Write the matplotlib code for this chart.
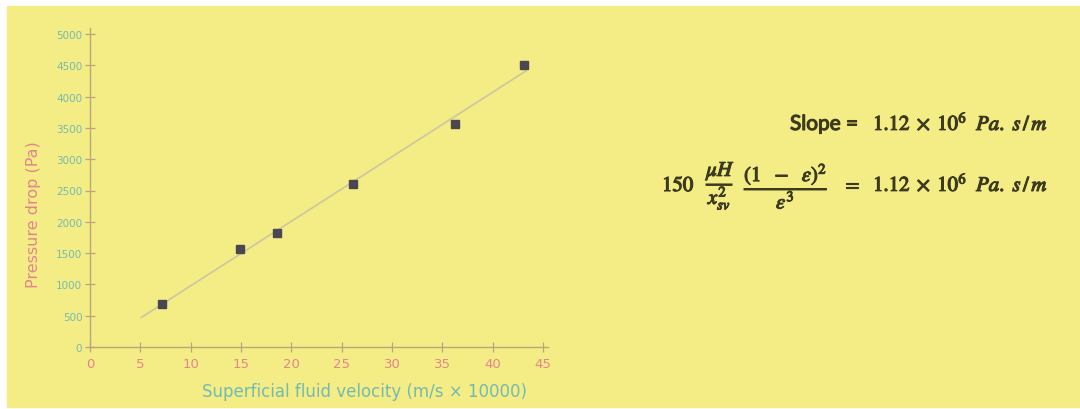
"""
Hand-drawn style pressure drop vs superficial velocity chart, with the
Carman-Kozeny slope equation on the right.
"""

import numpy as np
import matplotlib
matplotlib.use("Agg")
import matplotlib.pyplot as plt
from matplotlib.patches import Rectangle
import matplotlib.patheffects as pe

W, H = 1080, 410

# data
velocity = [7.2, 14.9, 18.6, 26.1, 36.3, 43.1]        # m/s x 10000
pressure_drop = [690, 1570, 1820, 2600, 3570, 4500]  # Pa

x_ticks = [0, 5, 10, 15, 20, 25, 30, 35, 40, 45]
y_ticks = [0, 500, 1000, 1500, 2000, 2500, 3000, 3500, 4000, 4500, 5000]
fit_range = [5.1, 43.3]

slope_value = r"$1.12\;\times\;10^{6}$"
slope_unit = r"$Pa.\ s\,/\,m$"
mu_frac = r"$\dfrac{\mu H}{x_{sv}^{2}}$"
eps_frac = r"$\dfrac{(1\ \ -\ \ \varepsilon)^{2}}{\varepsilon^{3}}$"

PAPER = "#F4EC84"
AXIS = "#B8A77C"
PINK = "#E3868D"
TEAL = "#73BBB2"
INK = "#3B3A1E"

plt.rcParams["mathtext.fontset"] = "stix"


def fx(px):
    return px / W


def fy(py):
    return 1 - py / H


fig = plt.figure(figsize=(W / 100, H / 100), dpi=100, facecolor="white")
fig.patches.append(Rectangle((fx(7), fy(408)), fx(W - 7), (408 - 7) / H,
                             transform=fig.transFigure, color=PAPER, zorder=-10))

# axes: x=0 at px 90, x=45 at px 543 ; y=0 at px 348, y=5000 at px 35
xpx = (543 - 90) / 45
ypx = (348 - 35) / 5000
xmax, ymax = 45.5, 5100
ax = fig.add_axes([fx(90), fy(348), xmax * xpx / W, ymax * ypx / H])
ax.set_zorder(2)
ax.set_facecolor("none")
ax.set_xlim(0, xmax)
ax.set_ylim(0, ymax)

for side in ["top", "right"]:
    ax.spines[side].set_visible(False)
for side in ["left", "bottom"]:
    ax.spines[side].set_color(AXIS)
    ax.spines[side].set_linewidth(1.0)

ax.set_xticks(x_ticks)
ax.set_xticklabels([str(t) for t in x_ticks])
ax.set_yticks(y_ticks)
ax.set_yticklabels([str(t) for t in y_ticks])
ax.tick_params(axis="x", direction="inout", length=7, width=0.9, color=AXIS,
               labelcolor=PINK, labelsize=9.5, pad=4)
ax.tick_params(axis="y", direction="inout", length=7, width=0.9, color=AXIS,
               labelcolor=TEAL, labelsize=7.5, pad=2)

ax.set_xlabel("Superficial fluid velocity (m/s × 10000)", color=TEAL, fontsize=12)
ax.xaxis.set_label_coords((365 - 90) / (xmax * xpx), -(383 - 348) / (ymax * ypx))
ax.set_ylabel("Pressure drop (Pa)", color=PINK, fontsize=11.5)
ax.yaxis.set_label_coords(-(90 - 41) / (xmax * xpx), (348 - 215) / (ymax * ypx))

# best-fit line
m, c = np.polyfit(velocity, pressure_drop, 1)
xs = np.array(fit_range)
ax.plot(xs, m * xs + c, color="#CBC7A0", lw=1.2, zorder=2)
ax.plot(velocity, pressure_drop, "s", color="#4B4750", ms=6, zorder=3)

# equations on the right
bold = [pe.withStroke(linewidth=0.8, foreground=INK)]
kw = dict(color=INK, ha="left", path_effects=bold)
fig.text(fx(790), fy(125), "Slope =", fontsize=15, family="Lato", va="center", **kw)
fig.text(fx(662), fy(186), "$150$", fontsize=15, va="center", **kw)
fig.text(fx(706), fy(187), mu_frac, fontsize=15, va="center", **kw)
fig.text(fx(744), fy(187), eps_frac, fontsize=15, va="center", **kw)
fig.text(fx(842), fy(186), "$=$", fontsize=15, va="center", **kw)
for base_y in [131, 192]:
    fig.text(fx(873), fy(base_y), slope_value, fontsize=15, va="baseline", **kw)
    fig.text(fx(976), fy(base_y), slope_unit, fontsize=15, va="baseline", **kw)

fig.savefig("out.png", dpi=100, facecolor="white")
